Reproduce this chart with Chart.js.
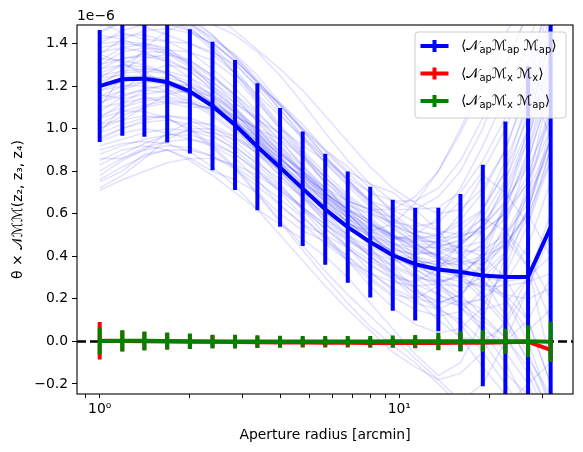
<!DOCTYPE html>
<html>
<head>
<meta charset="utf-8">
<script src="https://cdn.jsdelivr.net/npm/chart.js@4/dist/chart.umd.min.js"></script>
<style>
body { margin: 0; background: #fff; }
canvas { display: block; }
</style>
</head>
<body>
<canvas id="chart" width="583" height="452"></canvas>
<script>
// aperture radii in arcmin (x-axis, log)
var radii = [1.00, 1.19, 1.41, 1.68, 2.00, 2.38, 2.83, 3.36, 4.00, 4.76, 5.66, 6.73, 8.00, 9.51, 11.3, 13.5, 16.0, 19.0, 22.6, 26.9, 32.0];

// all y values in units of 1e-6
var mapMean = [1.200, 1.232, 1.235, 1.219, 1.175, 1.106, 1.017, 0.915, 0.818, 0.718, 0.621, 0.537, 0.467, 0.405, 0.363, 0.338, 0.326, 0.310, 0.303, 0.303, 0.537];
var mapErr = [0.263, 0.266, 0.273, 0.284, 0.292, 0.302, 0.305, 0.298, 0.279, 0.269, 0.261, 0.261, 0.260, 0.261, 0.265, 0.290, 0.367, 0.520, 0.730, 0.990, 1.300];

var mxxMean = [0.003, 0.002, 0.001, 0.000, -0.001, -0.002, -0.003, -0.004, -0.005, -0.005, -0.006, -0.006, -0.007, -0.007, -0.007, -0.007, -0.006, -0.006, -0.004, -0.002, -0.040];
var mxxErr = [0.088, 0.048, 0.042, 0.038, 0.034, 0.030, 0.030, 0.027, 0.025, 0.023, 0.023, 0.023, 0.023, 0.023, 0.025, 0.034, 0.040, 0.044, 0.050, 0.055, 0.055];

var mxapMean = [0.002, 0.003, 0.003, 0.002, 0.001, 0.000, 0.000, 0.000, 0.000, 0.000, 0.000, 0.000, 0.000, 0.001, 0.001, 0.001, 0.001, 0.001, 0.001, 0.001, -0.002];
var mxapErr = [0.063, 0.050, 0.044, 0.040, 0.036, 0.032, 0.032, 0.029, 0.027, 0.025, 0.025, 0.025, 0.025, 0.027, 0.029, 0.040, 0.047, 0.051, 0.059, 0.075, 0.095];

// individual realisations (faint lines)
var realisations = [
  [1.45, 1.50, 1.53, 1.52, 1.47, 1.39, 1.28, 1.15, 1.02, 0.90, 0.79, 0.69, 0.61, 0.55, 0.50, 0.46, 0.44, 0.47, 0.58, 0.75, 1.05],
  [0.95, 1.00, 1.03, 1.04, 1.02, 0.97, 0.90, 0.81, 0.72, 0.63, 0.55, 0.47, 0.41, 0.35, 0.30, 0.28, 0.31, 0.40, 0.52, 0.35, -0.10],
  [1.30, 1.36, 1.38, 1.35, 1.29, 1.20, 1.10, 0.98, 0.87, 0.76, 0.65, 0.56, 0.49, 0.42, 0.36, 0.30, 0.22, 0.12, 0.02, -0.15, -0.40],
  [1.10, 1.12, 1.14, 1.15, 1.13, 1.08, 1.02, 0.94, 0.86, 0.77, 0.69, 0.62, 0.55, 0.50, 0.47, 0.47, 0.52, 0.62, 0.80, 1.05, 1.40],
  [0.78, 0.85, 0.90, 0.92, 0.91, 0.87, 0.81, 0.73, 0.64, 0.55, 0.46, 0.38, 0.32, 0.28, 0.26, 0.27, 0.32, 0.40, 0.30, 0.10, -0.20],
  [1.60, 1.62, 1.60, 1.55, 1.48, 1.38, 1.26, 1.13, 1.00, 0.88, 0.77, 0.67, 0.58, 0.50, 0.44, 0.40, 0.38, 0.36, 0.45, 0.60, 0.85],
  [1.20, 1.28, 1.33, 1.35, 1.32, 1.25, 1.15, 1.03, 0.91, 0.79, 0.68, 0.58, 0.49, 0.41, 0.34, 0.27, 0.20, 0.15, 0.18, 0.30, 0.55],
  [0.71, 0.76, 0.80, 0.84, 0.86, 0.86, 0.83, 0.78, 0.71, 0.63, 0.55, 0.48, 0.42, 0.38, 0.36, 0.38, 0.45, 0.55, 0.70, 0.95, 1.30],
  [1.38, 1.40, 1.39, 1.36, 1.31, 1.24, 1.16, 1.07, 0.97, 0.87, 0.77, 0.68, 0.60, 0.53, 0.46, 0.40, 0.32, 0.22, 0.10, -0.05, -0.30],
  [1.05, 1.12, 1.18, 1.21, 1.20, 1.15, 1.07, 0.97, 0.86, 0.76, 0.67, 0.59, 0.53, 0.49, 0.48, 0.50, 0.57, 0.70, 0.90, 1.20, 1.60],
  [1.52, 1.55, 1.55, 1.52, 1.46, 1.37, 1.26, 1.14, 1.01, 0.89, 0.77, 0.66, 0.56, 0.47, 0.39, 0.33, 0.30, 0.32, 0.42, 0.62, 0.95],
  [0.88, 0.92, 0.95, 0.97, 0.97, 0.94, 0.88, 0.80, 0.71, 0.62, 0.53, 0.45, 0.38, 0.32, 0.27, 0.22, 0.16, 0.08, -0.05, -0.20, -0.45],
  [1.25, 1.27, 1.28, 1.27, 1.24, 1.18, 1.10, 1.00, 0.89, 0.78, 0.67, 0.56, 0.47, 0.40, 0.36, 0.35, 0.38, 0.46, 0.62, 0.88, 1.25],
  [1.15, 1.20, 1.22, 1.21, 1.17, 1.11, 1.03, 0.94, 0.84, 0.74, 0.64, 0.56, 0.50, 0.46, 0.44, 0.44, 0.41, 0.33, 0.20, 0.05, 0.15],
  [1.40, 1.46, 1.49, 1.49, 1.46, 1.40, 1.32, 1.22, 1.11, 1.00, 0.89, 0.79, 0.70, 0.62, 0.56, 0.52, 0.50, 0.52, 0.60, 0.78, 1.10],
  [0.98, 1.02, 1.05, 1.06, 1.04, 0.99, 0.92, 0.83, 0.73, 0.63, 0.53, 0.44, 0.36, 0.29, 0.23, 0.19, 0.17, 0.20, 0.28, 0.45, 0.75],
  [1.33, 1.32, 1.30, 1.26, 1.20, 1.12, 1.03, 0.93, 0.83, 0.73, 0.64, 0.56, 0.49, 0.44, 0.40, 0.37, 0.36, 0.38, 0.46, 0.60, 0.40],
  [1.22, 1.26, 1.27, 1.26, 1.22, 1.16, 1.08, 0.99, 0.89, 0.79, 0.69, 0.60, 0.52, 0.46, 0.42, 0.41, 0.45, 0.55, 0.72, 0.98, 1.35],
  [0.83, 0.88, 0.93, 0.97, 0.99, 0.98, 0.95, 0.89, 0.81, 0.72, 0.63, 0.54, 0.46, 0.39, 0.32, 0.25, 0.18, 0.10, 0.02, -0.12, -0.35],
  [1.48, 1.52, 1.54, 1.53, 1.49, 1.43, 1.34, 1.23, 1.11, 0.99, 0.87, 0.76, 0.66, 0.57, 0.50, 0.45, 0.42, 0.43, 0.50, 0.65, 0.95],
  [1.08, 1.15, 1.19, 1.20, 1.18, 1.13, 1.06, 0.98, 0.89, 0.80, 0.71, 0.63, 0.56, 0.50, 0.44, 0.38, 0.30, 0.20, 0.08, -0.08, -0.25],
  [1.28, 1.30, 1.29, 1.26, 1.20, 1.12, 1.02, 0.91, 0.80, 0.69, 0.59, 0.50, 0.42, 0.36, 0.31, 0.27, 0.26, 0.30, 0.40, 0.58, 0.90],
  [1.00, 1.06, 1.10, 1.12, 1.12, 1.09, 1.04, 0.97, 0.88, 0.79, 0.70, 0.62, 0.55, 0.49, 0.45, 0.44, 0.48, 0.58, 0.76, 1.00, 1.45],
  [1.55, 1.58, 1.58, 1.55, 1.49, 1.41, 1.31, 1.19, 1.07, 0.95, 0.84, 0.73, 0.63, 0.54, 0.46, 0.39, 0.34, 0.30, 0.28, 0.30, 0.40],
  [0.92, 0.95, 0.98, 1.00, 0.99, 0.96, 0.91, 0.84, 0.76, 0.68, 0.60, 0.53, 0.47, 0.43, 0.41, 0.42, 0.46, 0.54, 0.66, 0.82, 1.05],
  [1.18, 1.22, 1.24, 1.24, 1.21, 1.16, 1.09, 1.00, 0.90, 0.80, 0.70, 0.61, 0.53, 0.46, 0.40, 0.35, 0.30, 0.25, 0.22, 0.20, 0.25],
  [1.35, 1.42, 1.46, 1.47, 1.45, 1.40, 1.32, 1.22, 1.11, 0.99, 0.87, 0.76, 0.66, 0.58, 0.52, 0.49, 0.49, 0.54, 0.65, 0.85, 1.20],
  [1.12, 1.16, 1.18, 1.17, 1.13, 1.07, 0.99, 0.90, 0.80, 0.70, 0.61, 0.53, 0.46, 0.40, 0.35, 0.31, 0.28, 0.26, 0.26, 0.28, 0.32],
  [1.42, 1.44, 1.44, 1.41, 1.36, 1.28, 1.19, 1.08, 0.97, 0.86, 0.75, 0.65, 0.56, 0.49, 0.43, 0.39, 0.37, 0.40, 0.48, 0.35, 0.10],
  [1.02, 1.08, 1.11, 1.13, 1.12, 1.09, 1.03, 0.95, 0.86, 0.77, 0.68, 0.60, 0.54, 0.49, 0.46, 0.45, 0.47, 0.52, 0.60, 0.75, 1.00],
  [0.90, 0.93, 0.94, 0.93, 0.89, 0.82, 0.73, 0.62, 0.50, 0.38, 0.26, 0.15, 0.05, -0.05, -0.12, -0.18, -0.15, -0.05, 0.10, 0.30, 0.60],
  [1.05, 1.08, 1.08, 1.05, 0.99, 0.91, 0.81, 0.69, 0.56, 0.43, 0.30, 0.18, 0.07, -0.02, -0.10, -0.20, -0.30, -0.35, -0.30, -0.20, -0.10],
  [1.30, 1.33, 1.34, 1.32, 1.27, 1.19, 1.09, 0.98, 0.87, 0.76, 0.66, 0.58, 0.52, 0.48, 0.50, 0.58, 0.72, 0.92, 1.15, 1.40, 1.70],
  [0.80, 0.86, 0.91, 0.94, 0.95, 0.93, 0.88, 0.80, 0.70, 0.59, 0.48, 0.38, 0.29, 0.21, 0.15, 0.12, 0.14, 0.24, 0.42, 0.70, 1.10],
  [1.62, 1.65, 1.64, 1.60, 1.53, 1.44, 1.33, 1.21, 1.09, 0.97, 0.86, 0.77, 0.70, 0.66, 0.66, 0.72, 0.85, 1.05, 1.30, 1.55, 1.80],
  [1.20, 1.24, 1.25, 1.23, 1.18, 1.10, 1.00, 0.89, 0.78, 0.67, 0.57, 0.48, 0.40, 0.33, 0.25, 0.15, 0.02, -0.12, -0.25, -0.35, -0.40],
  [1.10, 1.25, 1.38, 1.46, 1.50, 1.49, 1.44, 1.36, 1.25, 1.12, 0.98, 0.85, 0.74, 0.66, 0.62, 0.63, 0.70, 0.85, 1.05, 1.30, 1.60],
  [0.75, 0.80, 0.88, 0.90, 0.86, 0.80, 0.76, 0.70, 0.60, 0.52, 0.47, 0.40, 0.30, 0.22, 0.20, 0.26, 0.20, 0.05, -0.10, -0.30, -0.50],
  [1.50, 1.45, 1.42, 1.41, 1.40, 1.36, 1.30, 1.20, 1.12, 1.02, 0.90, 0.80, 0.74, 0.70, 0.62, 0.52, 0.40, 0.45, 0.62, 0.90, 1.30],
  [1.26, 1.30, 1.27, 1.20, 1.16, 1.12, 1.05, 0.96, 0.85, 0.78, 0.70, 0.58, 0.45, 0.38, 0.40, 0.48, 0.60, 0.78, 0.70, 0.55, 0.90],
  [1.35, 1.31, 1.25, 1.22, 1.20, 1.14, 1.04, 0.92, 0.82, 0.70, 0.58, 0.50, 0.44, 0.35, 0.25, 0.18, 0.22, 0.35, 0.55, 0.85, 1.20],
  [0.98, 1.10, 1.15, 1.12, 1.10, 1.10, 1.06, 1.00, 0.95, 0.87, 0.75, 0.66, 0.62, 0.58, 0.50, 0.42, 0.38, 0.30, 0.12, -0.10, -0.35],
  [1.70, 1.66, 1.60, 1.56, 1.50, 1.42, 1.35, 1.25, 1.12, 1.00, 0.90, 0.82, 0.72, 0.60, 0.52, 0.50, 0.55, 0.62, 0.80, 1.15, 1.55],
  [1.14, 1.18, 1.26, 1.30, 1.28, 1.22, 1.12, 1.04, 0.98, 0.88, 0.74, 0.60, 0.50, 0.45, 0.38, 0.28, 0.16, 0.05, 0.00, 0.10, 0.30],
  [0.86, 0.86, 0.90, 0.98, 1.03, 1.02, 0.96, 0.88, 0.80, 0.74, 0.68, 0.60, 0.50, 0.42, 0.38, 0.36, 0.30, 0.35, 0.50, 0.70, 0.95],
  [1.44, 1.42, 1.38, 1.37, 1.36, 1.32, 1.24, 1.12, 1.00, 0.92, 0.85, 0.76, 0.65, 0.55, 0.48, 0.46, 0.50, 0.58, 0.52, 0.40, 0.20],
  [1.02, 1.04, 1.10, 1.16, 1.18, 1.15, 1.08, 0.96, 0.84, 0.74, 0.66, 0.56, 0.44, 0.32, 0.22, 0.15, 0.10, 0.00, -0.15, -0.25, -0.30],
  [1.58, 1.60, 1.62, 1.63, 1.60, 1.54, 1.46, 1.37, 1.28, 1.18, 1.06, 0.94, 0.82, 0.72, 0.65, 0.60, 0.62, 0.72, 0.90, 1.20, 1.70],
  [0.94, 0.98, 1.00, 0.98, 0.95, 0.92, 0.86, 0.76, 0.64, 0.55, 0.50, 0.44, 0.36, 0.30, 0.28, 0.34, 0.46, 0.62, 0.85, 1.10, 1.50],
  [1.32, 1.38, 1.40, 1.38, 1.30, 1.20, 1.12, 1.05, 0.95, 0.82, 0.70, 0.62, 0.57, 0.50, 0.40, 0.30, 0.25, 0.28, 0.20, 0.00, -0.30],
  [1.16, 1.14, 1.16, 1.18, 1.17, 1.12, 1.06, 1.00, 0.92, 0.82, 0.72, 0.64, 0.60, 0.56, 0.54, 0.56, 0.66, 0.80, 1.00, 1.25, 0.95],
  [1.24, 1.30, 1.36, 1.36, 1.30, 1.22, 1.14, 1.04, 0.92, 0.80, 0.70, 0.60, 0.50, 0.40, 0.30, 0.22, 0.18, 0.20, 0.32, 0.55, 0.85],
  [0.72, 0.78, 0.86, 0.95, 1.00, 1.00, 0.96, 0.90, 0.84, 0.78, 0.70, 0.62, 0.55, 0.50, 0.46, 0.40, 0.35, 0.28, 0.22, 0.10, -0.20],
  [1.46, 1.50, 1.48, 1.44, 1.40, 1.35, 1.26, 1.16, 1.06, 0.96, 0.86, 0.75, 0.64, 0.55, 0.50, 0.48, 0.44, 0.40, 0.45, 0.62, 0.95],
  [1.00, 1.04, 1.06, 1.05, 1.00, 0.92, 0.82, 0.70, 0.57, 0.45, 0.33, 0.22, 0.12, 0.02, -0.08, -0.18, -0.28, -0.20, 0.00, 0.25, 0.55],
  [1.28, 1.33, 1.35, 1.33, 1.27, 1.18, 1.07, 0.95, 0.83, 0.72, 0.62, 0.55, 0.52, 0.55, 0.65, 0.80, 1.00, 1.22, 1.45, 1.60, 1.75],
  [0.85, 0.90, 0.92, 0.90, 0.85, 0.78, 0.70, 0.62, 0.55, 0.48, 0.40, 0.30, 0.18, 0.06, -0.06, -0.16, -0.10, 0.10, 0.40, 0.75, 1.20],
  [1.18, 1.20, 1.20, 1.18, 1.14, 1.09, 1.03, 0.96, 0.88, 0.80, 0.72, 0.66, 0.62, 0.62, 0.68, 0.80, 0.98, 1.20, 1.40, 1.30, 1.10],
  [1.36, 1.38, 1.36, 1.31, 1.24, 1.15, 1.04, 0.92, 0.80, 0.68, 0.56, 0.44, 0.33, 0.24, 0.18, 0.15, 0.20, 0.38, 0.65, 1.00, 1.45],
  [1.06, 1.10, 1.13, 1.14, 1.12, 1.06, 0.98, 0.88, 0.78, 0.68, 0.58, 0.49, 0.40, 0.32, 0.24, 0.16, 0.08, -0.05, -0.20, -0.35, -0.50],
  [1.50, 1.55, 1.57, 1.56, 1.51, 1.44, 1.34, 1.22, 1.09, 0.96, 0.84, 0.74, 0.66, 0.62, 0.62, 0.68, 0.80, 1.00, 1.28, 1.55, 1.80],
  [0.96, 1.00, 1.04, 1.06, 1.05, 1.01, 0.94, 0.85, 0.74, 0.62, 0.50, 0.38, 0.26, 0.16, 0.08, 0.04, 0.06, 0.16, 0.35, 0.62, 1.00],
  [1.24, 1.25, 1.24, 1.21, 1.16, 1.10, 1.02, 0.93, 0.84, 0.75, 0.66, 0.58, 0.50, 0.42, 0.34, 0.28, 0.30, 0.42, 0.65, 0.95, 1.35],
  [0.76, 0.82, 0.87, 0.90, 0.90, 0.87, 0.82, 0.75, 0.67, 0.58, 0.49, 0.40, 0.32, 0.25, 0.20, 0.18, 0.22, 0.32, 0.48, 0.68, 0.90],
  [1.40, 1.41, 1.40, 1.37, 1.32, 1.25, 1.16, 1.05, 0.94, 0.83, 0.72, 0.62, 0.52, 0.44, 0.38, 0.36, 0.40, 0.52, 0.75, 1.08, 1.50],
  [1.12, 1.18, 1.22, 1.22, 1.18, 1.12, 1.04, 0.94, 0.83, 0.72, 0.61, 0.50, 0.40, 0.30, 0.20, 0.10, 0.02, 0.00, 0.08, 0.25, 0.50]
];

var seriesLabels = ['⟨𝒩ₐₚℳₐₚ ℳₐₚ⟩', '⟨𝒩ₐₚℳₓ ℳₓ⟩', '⟨𝒩ₐₚℳₓ ℳₐₚ⟩'];
var seriesColors = ['#0000ff', '#ff0000', '#008000'];

var xTicks = [0.9, 1, 2, 3, 4, 5, 6, 7, 8, 9, 10, 20, 30];
var yTicks = [-0.2, 0.0, 0.2, 0.4, 0.6, 0.8, 1.0, 1.2, 1.4];
var xMin = 0.84, xMax = 38.0;
var yMin = -0.247, yMax = 1.487;

function points(ys) {
  return radii.map(function (x, i) { return { x: x, y: ys[i] }; });
}

// each error bar is its own segment, separated by gaps
function errorBars(ys, errs) {
  var out = [];
  radii.forEach(function (x, i) {
    out.push({ x: x, y: ys[i] - errs[i] }, { x: x, y: ys[i] + errs[i] }, { x: x, y: null });
  });
  return out;
}

var datasets = [];
realisations.forEach(function (r) {
  datasets.push({ data: points(r), borderColor: 'rgba(0,0,255,0.12)', borderWidth: 1.5, order: 10 });
});
datasets.push({
  data: [{ x: xMin, y: 0 }, { x: xMax, y: 0 }],
  borderColor: '#000', borderWidth: 2.5, borderDash: [9, 4], order: 6
});
var means = [mapMean, mxxMean, mxapMean];
var errs = [mapErr, mxxErr, mxapErr];
for (var s = 0; s < 3; s++) {
  datasets.push({ data: errorBars(means[s], errs[s]), borderColor: seriesColors[s], borderWidth: 4, borderCapStyle: 'butt', spanGaps: false, order: 5 - s * 2 });
  datasets.push({ label: seriesLabels[s], data: points(means[s]), borderColor: seriesColors[s], borderWidth: 4, borderJoinStyle: 'round', order: 4.5 - s * 2 });
}

// draw a label, putting the unicode subscript letters a bit lower and smaller
var subs = { 'ₐ': 'a', 'ₚ': 'p', 'ₓ': 'x' };
function drawMath(ctx, text, x, y) {
  Array.from(text).forEach(function (ch) {
    if (subs[ch]) {
      ctx.font = '10px "DejaVu Sans"';
      ctx.fillText(subs[ch], x, y + 3);
      x += ctx.measureText(subs[ch]).width;
    } else {
      ctx.font = '14px "DejaVu Sans"';
      ctx.fillText(ch, x, y);
      x += ctx.measureText(ch).width;
    }
  });
}

var framePlugin = {
  id: 'frame',
  afterDraw: function (chart) {
    var ctx = chart.ctx, a = chart.chartArea;
    ctx.save();
    ctx.strokeStyle = '#000';
    ctx.lineWidth = 1.1;
    ctx.strokeRect(a.left, a.top, a.right - a.left, a.bottom - a.top);
    // offset text for y axis
    ctx.fillStyle = '#000';
    ctx.font = '13.9px "DejaVu Sans"';
    ctx.textBaseline = 'alphabetic';
    ctx.fillText('1e−6', a.left, a.top - 5);
    // legend
    var w = 151, h = 86;
    var x0 = a.right - 7 - w, y0 = a.top + 7;
    ctx.beginPath();
    ctx.roundRect(x0, y0, w, h, 3);
    ctx.fillStyle = 'rgba(255,255,255,0.8)';
    ctx.fill();
    ctx.strokeStyle = '#cccccc';
    ctx.lineWidth = 1;
    ctx.stroke();
    seriesLabels.forEach(function (lab, i) {
      var cy = y0 + 14 + i * 27.5;
      ctx.strokeStyle = seriesColors[i];
      ctx.lineWidth = 4;
      ctx.lineCap = 'butt';
      ctx.beginPath();
      ctx.moveTo(x0 + 5.5, cy);
      ctx.lineTo(x0 + 33.5, cy);
      ctx.moveTo(x0 + 19.5, cy - 6);
      ctx.lineTo(x0 + 19.5, cy + 6);
      ctx.stroke();
      ctx.fillStyle = '#000';
      ctx.textBaseline = 'alphabetic';
      drawMath(ctx, lab, x0 + 46, cy + 4);
    });
    ctx.restore();
  }
};

Chart.defaults.font.family = '"DejaVu Sans"';
Chart.defaults.font.size = 13.9;
Chart.defaults.color = '#000';

new Chart(document.getElementById('chart'), {
  type: 'line',
  data: { datasets: datasets },
  plugins: [framePlugin],
  options: {
    responsive: false,
    animation: false,
    events: [],
    devicePixelRatio: 1,
    layout: { padding: { top: 25, right: 10, left: 0, bottom: 0 } },
    elements: { point: { radius: 0 }, line: { tension: 0 } },
    datasets: { line: { clip: 0, fill: false } },
    plugins: { legend: { display: false }, tooltip: { enabled: false } },
    scales: {
      x: {
        type: 'logarithmic',
        min: xMin,
        max: xMax,
        afterBuildTicks: function (scale) {
          scale.ticks = xTicks.map(function (v) { return { value: v }; });
        },
        afterFit: function (scale) { scale.height = 58; },
        ticks: {
          autoSkip: false,
          maxRotation: 0,
          padding: 3,
          callback: function (v) { return v === 1 ? '10⁰' : (v === 10 ? '10¹' : ''); }
        },
        grid: { drawOnChartArea: false, drawTicks: true, tickLength: 4, tickColor: '#000' },
        border: { display: false },
        title: { display: true, text: 'Aperture radius [arcmin]', padding: { top: 4, bottom: 8 } }
      },
      y: {
        min: yMin,
        max: yMax,
        afterBuildTicks: function (scale) {
          scale.ticks = yTicks.map(function (v) { return { value: v }; });
        },
        afterFit: function (scale) { scale.width = 77; },
        ticks: {
          padding: 4,
          callback: function (v) { return v.toFixed(1).replace('-', '−'); }
        },
        grid: { drawOnChartArea: false, drawTicks: true, tickLength: 5, tickColor: '#000' },
        border: { display: false },
        title: { display: true, text: 'θ × 𝒩ℳℳ(z₂, z₃, z₄)', padding: { top: 10, bottom: 4 } }
      }
    }
  }
});
</script>
</body>
</html>
